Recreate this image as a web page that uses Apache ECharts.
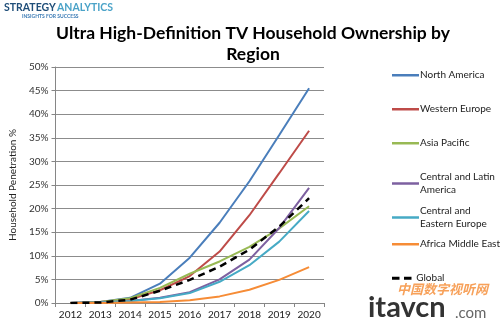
<!DOCTYPE html>
<html>
<head>
<meta charset="utf-8">
<script src="https://cdn.jsdelivr.net/npm/echarts@6/dist/echarts.min.js"></script>
<style>
  html, body { margin: 0; padding: 0; background: #fff; }
  #chart { width: 500px; height: 328px; }
</style>
</head>
<body>
<div id="chart"></div>
<script>
// Household penetration of Ultra HD TV, % by region, 2012-2020
const years = ['2012', '2013', '2014', '2015', '2016', '2017', '2018', '2019', '2020'];
const northAmerica = [0, 0.2, 1.1, 4.1, 9.6, 17.0, 25.8, 35.6, 45.5];
const westernEurope = [0, 0.2, 0.8, 2.7, 5.7, 10.9, 18.6, 27.5, 36.5];
const asiaPacific = [0, 0.2, 1.0, 3.2, 6.2, 8.8, 11.9, 15.8, 20.5];
const centralLatinAmerica = [0, 0.1, 0.4, 1.1, 2.3, 5.0, 9.2, 15.9, 24.4];
const centralEasternEurope = [0, 0.1, 0.4, 1.0, 2.1, 4.5, 8.0, 13.0, 19.5];
const africaMiddleEast = [0, 0, 0.1, 0.2, 0.6, 1.4, 2.8, 4.9, 7.6];
const globalAvg = [0, 0.1, 0.7, 2.6, 4.9, 7.7, 11.3, 16.2, 22.2];
const yTicks = [0, 5, 10, 15, 20, 25, 30, 35, 40, 45, 50];

const seriesDefs = [
  { name: 'North America', data: northAmerica, color: '#4A7EBB' },
  { name: 'Western Europe', data: westernEurope, color: '#BE4B48' },
  { name: 'Asia Pacific', data: asiaPacific, color: '#98B954' },
  { name: 'Central and Latin\nAmerica', data: centralLatinAmerica, color: '#7D60A0' },
  { name: 'Central and\nEastern Europe', data: centralEasternEurope, color: '#46AAC5' },
  { name: 'Africa Middle East', data: africaMiddleEast, color: '#F68C36' },
  { name: 'Global', data: globalAvg, color: '#000000', dashed: true }
];

const FONT = 'Lato, "Liberation Sans", sans-serif';
const chart = echarts.init(document.getElementById('chart'), null, { renderer: 'canvas' });

// Legend rows placed at fixed heights on the right-hand side
const legendTops = [64, 98, 132, 166, 200, 233, 267];
const legends = seriesDefs.map((s, i) => ({
  data: [s.dashed
    ? { name: s.name, icon: 'path://M0,0 L10,0 L10,4 L0,4 Z M16,0 L26,0 L26,4 L16,4 Z' }
    : s.name],
  left: 387,
  top: legendTops[i],
  orient: 'vertical',
  itemWidth: 27,
  itemHeight: s.dashed ? 3 : 2.5,
  itemGap: 4,
  icon: s.dashed ? undefined : 'rect',
  textStyle: { fontFamily: FONT, fontSize: 10, color: '#222', lineHeight: 12.5, padding: [0, 0, 0, -4] },
  selectedMode: false
}));

chart.setOption({
  animation: false,
  backgroundColor: '#ffffff',
  title: {
    text: 'Ultra High-Definition TV Household Ownership by\nRegion',
    left: 248,
    textAlign: 'center',
    top: 18,
    textStyle: { fontFamily: FONT, fontWeight: 'bold', fontSize: 17.5, color: '#000', lineHeight: 21 }
  },
  legend: legends,
  grid: { left: 55, right: 176, top: 67, bottom: 25 },
  xAxis: {
    type: 'category',
    data: years,
    boundaryGap: true,
    axisLine: { lineStyle: { color: '#868686', width: 1 } },
    axisTick: { show: true, length: 4, lineStyle: { color: '#868686' } },
    axisLabel: { fontFamily: FONT, fontSize: 10, color: '#222', margin: 7, interval: 0 }
  },
  yAxis: {
    type: 'value',
    min: yTicks[0],
    max: yTicks[yTicks.length - 1],
    interval: yTicks[1] - yTicks[0],
    name: 'Household Penetration %',
    nameLocation: 'middle',
    nameRotate: 90,
    nameGap: 36,
    nameTextStyle: { fontFamily: FONT, fontSize: 10, color: '#222' },
    axisLine: { show: true, lineStyle: { color: '#868686' } },
    axisTick: { show: true, length: 4, inside: false, lineStyle: { color: '#868686' } },
    axisLabel: { fontFamily: FONT, fontSize: 10, color: '#333', formatter: v => v + '%', margin: 7 },
    splitLine: { lineStyle: { color: '#8c8c8c', width: 1 } }
  },
  series: seriesDefs.map(s => ({
    name: s.name,
    type: 'line',
    data: s.data,
    symbol: 'none',
    smooth: false,
    z: s.dashed ? 3 : 2,
    color: s.color,
    lineStyle: { color: s.color, width: s.dashed ? 2.5 : 2, type: s.dashed ? [7, 5] : 'solid' }
  })),
  graphic: [
    // Publisher logo, top-left
    { type: 'text', left: 4, top: 2, style: { text: 'STRATEGY', font: 'bold 10.5px ' + FONT, fill: '#1F4E79' } },
    { type: 'text', left: 57, top: 2, style: { text: 'ANALYTICS', font: 'bold 10.5px ' + FONT, fill: '#4BA3C8' } },
    { type: 'text', left: 22, top: 14, style: { text: 'INSIGHTS FOR SUCCESS', font: 'bold 5px ' + FONT, fill: '#3B7BB5' } },
    // Site mark, bottom-right
    { type: 'text', left: 397, top: 283, style: { text: '中国数字视听网', font: 'italic bold 13px "Noto Sans CJK SC"', fill: '#F7A15A' } },
    { type: 'text', left: 368, top: 293, style: { text: 'itavcn', font: 'bold 29px ' + FONT, fill: '#333333' } },
    { type: 'text', left: 455, top: 306, style: { text: '.com', font: '15px ' + FONT, fill: '#666666' } }
  ]
});
</script>
</body>
</html>
